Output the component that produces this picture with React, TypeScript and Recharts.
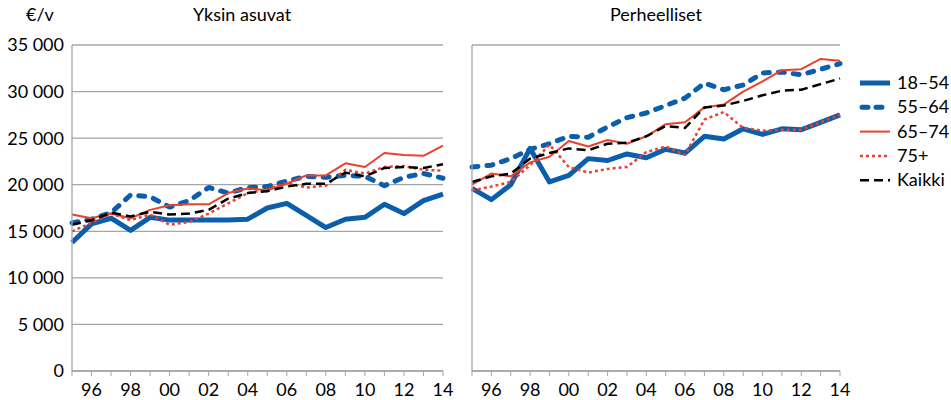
import { LineChart, Line, XAxis, YAxis, CartesianGrid } from "recharts";

const years = [
  1995, 1996, 1997, 1998, 1999, 2000, 2001, 2002, 2003, 2004, 2005, 2006,
  2007, 2008, 2009, 2010, 2011, 2012, 2013, 2014,
];

// Yksin asuvat
const alone1854 = [13800, 15800, 16400, 15100, 16500, 16200, 16200, 16200, 16200, 16300, 17500, 18000, 16700, 15400, 16300, 16500, 17900, 16900, 18300, 19000];
const alone5564 = [15900, 16300, 17000, 18900, 18700, 17600, 18300, 19700, 19100, 19700, 19800, 20400, 20900, 20800, 21000, 20900, 19900, 20800, 21200, 20700];
const alone6574 = [16800, 16400, 16900, 16400, 17300, 17800, 17900, 17900, 19100, 19600, 19400, 20100, 21000, 21000, 22300, 21900, 23400, 23200, 23100, 24200];
const alone75 = [15000, 15900, 16900, 16200, 16800, 15700, 16000, 16900, 18000, 19100, 19500, 20200, 19700, 19900, 21600, 21200, 21900, 22000, 21600, 21500];
const aloneAll = [15700, 16200, 17000, 16600, 17100, 16800, 16900, 17300, 18500, 19100, 19300, 19800, 20100, 20100, 21300, 20900, 21800, 21900, 21800, 22200];

// Perheelliset
const fam1854 = [19600, 18400, 20000, 23900, 20300, 21000, 22800, 22600, 23300, 22900, 23800, 23400, 25200, 24900, 26000, 25400, 26000, 25900, 26700, 27500];
const fam5564 = [21900, 22100, 22800, 23800, 24400, 25200, 25100, 26200, 27200, 27700, 28500, 29300, 30900, 30200, 30700, 32000, 32100, 31800, 32400, 33000];
const fam6574 = [20000, 21200, 20900, 22400, 23000, 24700, 24100, 24800, 24400, 25200, 26500, 26700, 28300, 28600, 30000, 31100, 32300, 32400, 33500, 33300];
const fam75 = [19400, 19800, 20300, 22100, 24300, 21900, 21300, 21700, 21900, 23500, 24100, 23200, 27000, 27800, 26100, 25800, 25900, 25900, 26700, 27500];
const famAll = [20300, 20900, 21200, 22800, 23400, 23900, 23700, 24400, 24500, 25200, 26300, 26100, 28300, 28500, 29000, 29600, 30100, 30200, 30800, 31400];

const yTicks = [0, 5000, 10000, 15000, 20000, 25000, 30000, 35000];

const BLUE = "#0b5eab";
const RED = "#e8412d";
const GRID = "#a6a6a6";
const FONT = "Lato, 'Open Sans', sans-serif";

const series = [
  { key: "a", name: "18–54", color: BLUE, width: 5, dash: undefined, cap: "butt" },
  { key: "b", name: "55–64", color: BLUE, width: 5, dash: "6 9", cap: "round" },
  { key: "c", name: "65–74", color: RED, width: 2, dash: undefined, cap: "butt" },
  { key: "d", name: "75+", color: RED, width: 2.5, dash: "3 3", cap: "butt" },
  { key: "e", name: "Kaikki", color: "#000", width: 2.5, dash: "9 5", cap: "butt" },
];

const build = (cols: number[][]) =>
  years.map((y, i) => ({
    year: y,
    a: cols[0][i],
    b: cols[1][i],
    c: cols[2][i],
    d: cols[3][i],
    e: cols[4][i],
  }));

const aloneData = build([alone1854, alone5564, alone6574, alone75, aloneAll]);
const famData = build([fam1854, fam5564, fam6574, fam75, famAll]);

const fmt = (v: number) => String(v).replace(/\B(?=(\d{3})+(?!\d))/g, " ");

const YearTick = (props: any) => {
  const { x, y, payload } = props;
  const v = payload.value as number;
  return (
    <g>
      <line x1={x} x2={x} y1={y} y2={y + 5} stroke={GRID} strokeWidth={1} />
      {v % 2 === 0 && (
        <text x={x} y={y + 25} textAnchor="middle" fontSize={18} fill="#000" fontFamily={FONT}>
          {String(v).slice(2)}
        </text>
      )}
    </g>
  );
};

const Panel = ({ data, left, right, showY }: { data: any[]; left: number; right: number; showY: boolean }) => (
  <div style={{ position: "absolute", left, top: 0 }}>
    <LineChart width={460} height={400} data={data} margin={{ top: 45, right, bottom: 0, left: 0 }}>
      <CartesianGrid vertical={false} stroke={GRID} strokeWidth={1.3} />
      <XAxis
        dataKey="year"
        type="number"
        domain={[1995, 2014]}
        ticks={years}
        interval={0}
        height={29}
        tickSize={0}
        tickMargin={0}
        tickLine={false}
        axisLine={{ stroke: GRID, strokeWidth: 1.3 }}
        tick={<YearTick />}
      />
      <YAxis
        width={72}
        domain={[0, 35000]}
        ticks={yTicks}
        interval={0}
        tickLine={false}
        tickSize={4}
        tickMargin={4}
        axisLine={{ stroke: GRID, strokeWidth: 1.3 }}
        tick={showY ? { fill: "#000", fontSize: 18, fontFamily: FONT } : false}
        tickFormatter={fmt}
      />
      {series.map((s) => (
        <Line
          key={s.key}
          dataKey={s.key}
          name={s.name}
          type="linear"
          stroke={s.color}
          strokeWidth={s.width}
          strokeDasharray={s.dash}
          strokeLinecap={s.cap as any}
          strokeLinejoin="round"
          dot={false}
          activeDot={false}
          isAnimationActive={false}
        />
      ))}
    </LineChart>
  </div>
);

export default function App() {
  return (
    <div style={{ position: "absolute", left: 0, top: 0, width: 951, height: 400, background: "#fff", fontFamily: FONT }}>
      <div style={{ position: "absolute", left: 26, top: 3, fontSize: 18 }}>€/v</div>
      <div style={{ position: "absolute", left: 142, width: 200, top: 3, fontSize: 18, textAlign: "center" }}>
        Yksin asuvat
      </div>
      <div style={{ position: "absolute", left: 556, width: 200, top: 3, fontSize: 18, textAlign: "center" }}>
        Perheelliset
      </div>
      <Panel data={aloneData} left={0} right={17} showY={true} />
      <Panel data={famData} left={400} right={20} showY={false} />
      <svg style={{ position: "absolute", left: 850, top: 60 }} width={101} height={140}>
        {series.map((s, i) => {
          const cy = 23 + i * 24.3;
          return (
            <g key={s.key}>
              <line
                x1={s.cap === "round" ? 12 : 10}
                x2={s.cap === "round" ? 38 : 40}
                y1={cy}
                y2={cy}
                stroke={s.color}
                strokeWidth={s.width}
                strokeDasharray={s.dash === "6 9" ? "6 8" : s.dash}
                strokeLinecap={s.cap as any}
              />
              <text x={47} y={cy + 6} fontSize={18} fontFamily={FONT} fill="#000">
                {s.name}
              </text>
            </g>
          );
        })}
      </svg>
    </div>
  );
}
